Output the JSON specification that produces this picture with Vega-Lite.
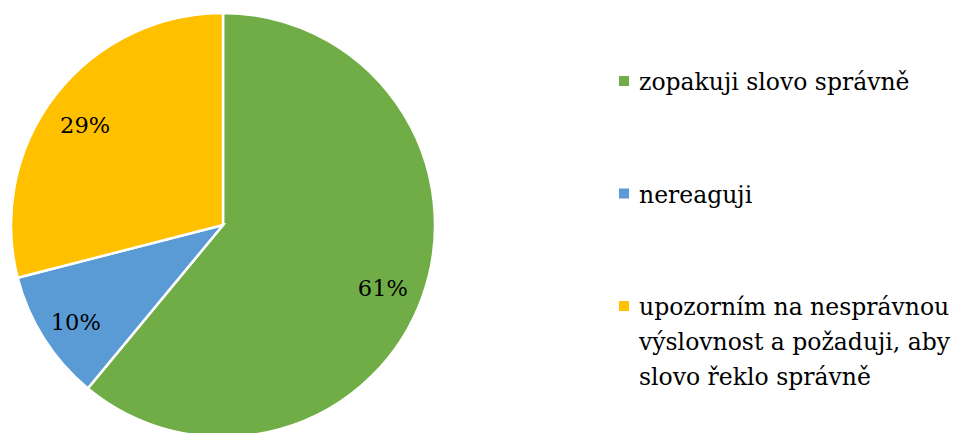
{
  "$schema": "https://vega.github.io/schema/vega-lite/v6.json",
  "padding": 0,
  "spacing": 168,
  "background": "white",
  "data": {
    "values": [
      {"kategorie": "zopakuji slovo správně", "legenda": "zopakuji slovo správně", "podil": 61, "popis": "61%", "poradi": 1},
      {"kategorie": "nereaguji", "legenda": "nereaguji", "podil": 10, "popis": "10%", "poradi": 2},
      {"kategorie": "upozorním na nesprávnou výslovnost a požaduji, aby slovo řeklo správně", "legenda": "upozorním na nesprávnou|výslovnost a požaduji, aby|slovo řeklo správně", "podil": 29, "popis": "29%", "poradi": 3}
    ]
  },
  "hconcat": [
    {
      "width": 446,
      "height": 450,
      "encoding": {
        "theta": {"field": "podil", "type": "quantitative", "stack": true},
        "order": {"field": "poradi", "type": "quantitative"}
      },
      "layer": [
        {
          "mark": {"type": "arc", "outerRadius": 212, "stroke": "white", "strokeWidth": 2.5},
          "encoding": {
            "color": {
              "field": "kategorie",
              "type": "nominal",
              "scale": {
                "domain": ["zopakuji slovo správně", "nereaguji", "upozorním na nesprávnou výslovnost a požaduji, aby slovo řeklo správně"],
                "range": ["#70AD47", "#5B9BD5", "#FFC000"]
              },
              "legend": null
            }
          }
        },
        {
          "mark": {"type": "text", "radius": 172, "font": "DejaVu Serif", "fontSize": 22.5, "color": "black", "dy": 6, "dx": -2},
          "encoding": {"text": {"field": "popis", "type": "nominal"}}
        }
      ]
    },
    {
      "width": 20,
      "height": 450,
      "encoding": {
        "y": {
          "field": "poradi",
          "type": "quantitative",
          "scale": {"domain": [0.28, 4.28], "reverse": true, "nice": false, "zero": false},
          "axis": null
        }
      },
      "layer": [
        {
          "mark": {"type": "point", "shape": "square", "filled": true, "size": 100, "opacity": 1, "strokeWidth": 0},
          "encoding": {
            "color": {
              "field": "kategorie",
              "type": "nominal",
              "scale": {
                "domain": ["zopakuji slovo správně", "nereaguji", "upozorním na nesprávnou výslovnost a požaduji, aby slovo řeklo správně"],
                "range": ["#70AD47", "#5B9BD5", "#FFC000"]
              },
              "legend": null
            }
          }
        },
        {
          "mark": {"type": "text", "align": "left", "baseline": "alphabetic", "dx": 15, "dy": 9, "font": "DejaVu Serif", "fontSize": 23.5, "lineHeight": 35, "lineBreak": "|", "color": "black"},
          "encoding": {"text": {"field": "legenda", "type": "nominal"}}
        }
      ]
    }
  ],
  "config": {
    "view": {"stroke": null}
  }
}
